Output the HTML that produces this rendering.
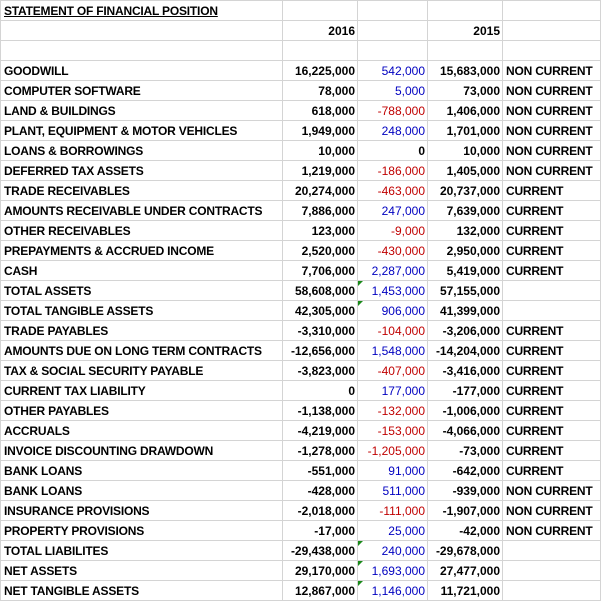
<!DOCTYPE html>
<html><head><style>
body{margin:0;background:#fff;}
table{border-collapse:collapse;table-layout:fixed;position:absolute;left:0;top:0;font-family:"Liberation Sans",Arial,sans-serif;font-size:12px;font-weight:bold;color:#000;}
td{border:1px solid #d4d4d4;height:17px;padding:2px 0 0 0;white-space:nowrap;overflow:hidden;line-height:17px;}
td.n{text-align:right;padding-right:2px;}
td.l{padding-left:3px;letter-spacing:-0.2px;}
td.e{padding-left:3px;letter-spacing:-0.2px;}
.b{color:#0000c0;font-weight:normal;}
.r{color:#c00000;font-weight:normal;}
td.t{position:relative;}
td.t::before{content:"";position:absolute;left:0;top:0;border-top:5px solid #1a8a1a;border-right:5px solid transparent;}
.title{text-decoration:underline;letter-spacing:-0.5px;}
</style></head><body>
<table>
<colgroup><col style="width:282px"><col style="width:75px"><col style="width:70px"><col style="width:75px"><col style="width:98px"></colgroup>
<tr><td class="l title">STATEMENT OF FINANCIAL POSITION</td><td></td><td></td><td></td><td></td></tr>
<tr><td></td><td class="n">2016</td><td></td><td class="n">2015</td><td></td></tr>
<tr><td></td><td></td><td></td><td></td><td></td></tr>
<tr><td class="l">GOODWILL</td><td class="n">16,225,000</td><td class="n b">542,000</td><td class="n">15,683,000</td><td class="e">NON CURRENT</td></tr>
<tr><td class="l">COMPUTER SOFTWARE</td><td class="n">78,000</td><td class="n b">5,000</td><td class="n">73,000</td><td class="e">NON CURRENT</td></tr>
<tr><td class="l">LAND &amp; BUILDINGS</td><td class="n">618,000</td><td class="n r">-788,000</td><td class="n">1,406,000</td><td class="e">NON CURRENT</td></tr>
<tr><td class="l">PLANT, EQUIPMENT &amp; MOTOR VEHICLES</td><td class="n">1,949,000</td><td class="n b">248,000</td><td class="n">1,701,000</td><td class="e">NON CURRENT</td></tr>
<tr><td class="l">LOANS &amp; BORROWINGS</td><td class="n">10,000</td><td class="n">0</td><td class="n">10,000</td><td class="e">NON CURRENT</td></tr>
<tr><td class="l">DEFERRED TAX ASSETS</td><td class="n">1,219,000</td><td class="n r">-186,000</td><td class="n">1,405,000</td><td class="e">NON CURRENT</td></tr>
<tr><td class="l">TRADE RECEIVABLES</td><td class="n">20,274,000</td><td class="n r">-463,000</td><td class="n">20,737,000</td><td class="e">CURRENT</td></tr>
<tr><td class="l">AMOUNTS RECEIVABLE UNDER CONTRACTS</td><td class="n">7,886,000</td><td class="n b">247,000</td><td class="n">7,639,000</td><td class="e">CURRENT</td></tr>
<tr><td class="l">OTHER RECEIVABLES</td><td class="n">123,000</td><td class="n r">-9,000</td><td class="n">132,000</td><td class="e">CURRENT</td></tr>
<tr><td class="l">PREPAYMENTS &amp; ACCRUED INCOME</td><td class="n">2,520,000</td><td class="n r">-430,000</td><td class="n">2,950,000</td><td class="e">CURRENT</td></tr>
<tr><td class="l">CASH</td><td class="n">7,706,000</td><td class="n b">2,287,000</td><td class="n">5,419,000</td><td class="e">CURRENT</td></tr>
<tr><td class="l">TOTAL ASSETS</td><td class="n">58,608,000</td><td class="n b t">1,453,000</td><td class="n">57,155,000</td><td></td></tr>
<tr><td class="l">TOTAL TANGIBLE ASSETS</td><td class="n">42,305,000</td><td class="n b t">906,000</td><td class="n">41,399,000</td><td></td></tr>
<tr><td class="l">TRADE PAYABLES</td><td class="n">-3,310,000</td><td class="n r">-104,000</td><td class="n">-3,206,000</td><td class="e">CURRENT</td></tr>
<tr><td class="l">AMOUNTS DUE ON LONG TERM CONTRACTS</td><td class="n">-12,656,000</td><td class="n b">1,548,000</td><td class="n">-14,204,000</td><td class="e">CURRENT</td></tr>
<tr><td class="l">TAX &amp; SOCIAL SECURITY PAYABLE</td><td class="n">-3,823,000</td><td class="n r">-407,000</td><td class="n">-3,416,000</td><td class="e">CURRENT</td></tr>
<tr><td class="l">CURRENT TAX LIABILITY</td><td class="n">0</td><td class="n b">177,000</td><td class="n">-177,000</td><td class="e">CURRENT</td></tr>
<tr><td class="l">OTHER PAYABLES</td><td class="n">-1,138,000</td><td class="n r">-132,000</td><td class="n">-1,006,000</td><td class="e">CURRENT</td></tr>
<tr><td class="l">ACCRUALS</td><td class="n">-4,219,000</td><td class="n r">-153,000</td><td class="n">-4,066,000</td><td class="e">CURRENT</td></tr>
<tr><td class="l">INVOICE DISCOUNTING DRAWDOWN</td><td class="n">-1,278,000</td><td class="n r">-1,205,000</td><td class="n">-73,000</td><td class="e">CURRENT</td></tr>
<tr><td class="l">BANK LOANS</td><td class="n">-551,000</td><td class="n b">91,000</td><td class="n">-642,000</td><td class="e">CURRENT</td></tr>
<tr><td class="l">BANK LOANS</td><td class="n">-428,000</td><td class="n b">511,000</td><td class="n">-939,000</td><td class="e">NON CURRENT</td></tr>
<tr><td class="l">INSURANCE PROVISIONS</td><td class="n">-2,018,000</td><td class="n r">-111,000</td><td class="n">-1,907,000</td><td class="e">NON CURRENT</td></tr>
<tr><td class="l">PROPERTY PROVISIONS</td><td class="n">-17,000</td><td class="n b">25,000</td><td class="n">-42,000</td><td class="e">NON CURRENT</td></tr>
<tr><td class="l">TOTAL LIABILITES</td><td class="n">-29,438,000</td><td class="n b t">240,000</td><td class="n">-29,678,000</td><td></td></tr>
<tr><td class="l">NET ASSETS</td><td class="n">29,170,000</td><td class="n b t">1,693,000</td><td class="n">27,477,000</td><td></td></tr>
<tr><td class="l">NET TANGIBLE ASSETS</td><td class="n">12,867,000</td><td class="n b t">1,146,000</td><td class="n">11,721,000</td><td></td></tr>
</table>
</body></html>
